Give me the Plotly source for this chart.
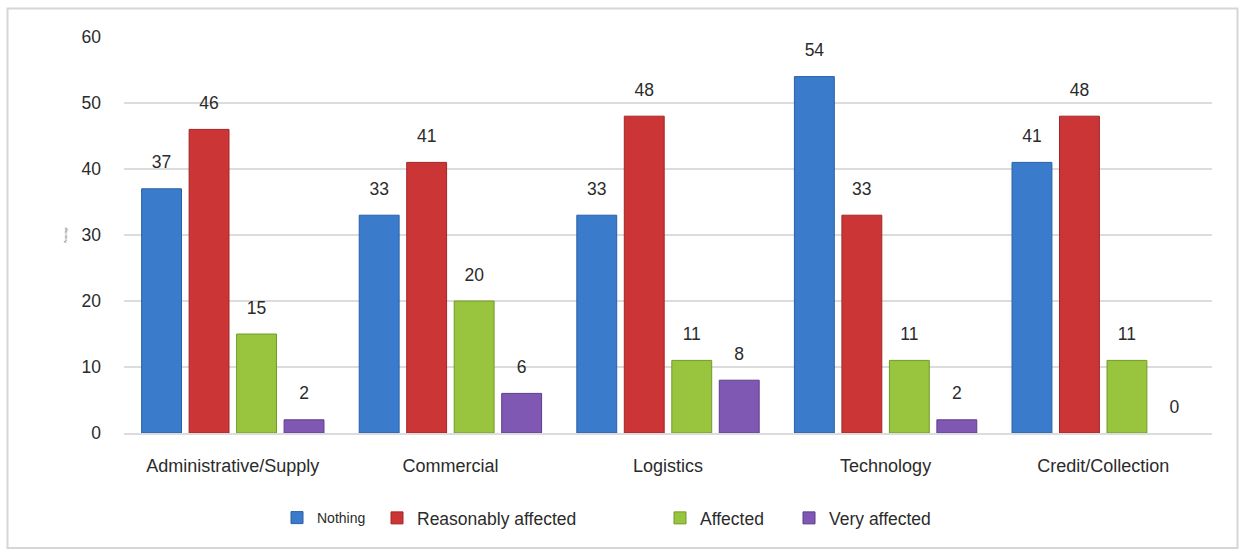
import plotly.graph_objects as go

# Survey results: share of respondents (%) per department and impact level
departments = ["Administrative/Supply", "Commercial", "Logistics", "Technology", "Credit/Collection"]
series_names = ["Nothing", "Reasonably affected", "Affected", "Very affected"]
nothing = [37, 33, 33, 54, 41]
reasonably_affected = [46, 41, 48, 33, 48]
affected = [15, 20, 11, 11, 11]
very_affected = [2, 6, 8, 2, 0]
y_ticks = [0, 10, 20, 30, 40, 50, 60]

series_values = [nothing, reasonably_affected, affected, very_affected]
fill_colors = ["#3B7BCB", "#CC3535", "#98C43E", "#7E58B2"]
edge_colors = ["#2A5FA6", "#A22626", "#729A2A", "#5E3E8C"]

FONT = "Liberation Sans, Arial, Helvetica, sans-serif"
TEXT_COLOR = "#2b2b2b"
GRID_COLOR = "#dcdcdc"

# One legend per series so every entry can sit at its own spot
legend_ids = ["legend", "legend2", "legend3", "legend4"]
legend_x = [277, 377, 660, 789]
legend_font = [14, 17.5, 17.5, 17.5]

fig = go.Figure()

for name, vals, fc, ec, lid in zip(series_names, series_values, fill_colors, edge_colors, legend_ids):
    fig.add_trace(go.Bar(
        name=name,
        x=departments,
        y=vals,
        marker=dict(
            color=fc,
            # no outline on empty bars so nothing shows for a zero value
            line=dict(color=ec, width=[1 if v > 0 else 0 for v in vals]),
        ),
        legend=lid,
        hoverinfo="x+y+name",
    ))

# Value labels above each bar, grouped the same way as the bars
for name, vals in zip(series_names, series_values):
    fig.add_trace(go.Scatter(
        x=departments,
        y=vals,
        mode="markers+text",
        text=[str(v) for v in vals],
        textposition="top center",
        textfont=dict(family=FONT, size=17.5, color=TEXT_COLOR),
        marker=dict(size=24, color="rgba(0,0,0,0)"),
        showlegend=False,
        hoverinfo="skip",
        cliponaxis=False,
    ))

# Light frame around the whole chart
W, H = 1244, 550
L, R, T, B = 124, 32, 37, 117
pw, ph = W - L - R, H - T - B


def px_to_paper_x(px):
    return (px - L) / pw


def px_to_paper_y(py):
    return (H - B - py) / ph


fig.add_shape(
    type="rect", xref="paper", yref="paper",
    x0=px_to_paper_x(7.5), x1=px_to_paper_x(1237.5),
    y0=px_to_paper_y(548), y1=px_to_paper_y(8.5),
    line=dict(color="#d6d6d6", width=2), fillcolor="rgba(0,0,0,0)", layer="below",
)

layout_legends = {}
for lid, lx, fs in zip(legend_ids, legend_x, legend_font):
    layout_legends[lid] = dict(
        xref="container", yref="container",
        x=lx / W, y=1 - 518 / H,
        xanchor="left", yanchor="middle",
        orientation="h",
        font=dict(family=FONT, size=fs, color=TEXT_COLOR),
        bgcolor="rgba(0,0,0,0)",
        borderwidth=0,
        itemwidth=30,
    )

fig.update_layout(
    width=W, height=H,
    margin=dict(l=L, r=R, t=T, b=B),
    paper_bgcolor="white",
    plot_bgcolor="white",
    barmode="group",
    scattermode="group",
    bargap=0.127,
    bargroupgap=0.16,
    scattergap=0.127,
    font=dict(family=FONT, size=17.5, color=TEXT_COLOR),
    showlegend=True,
    **layout_legends,
    xaxis=dict(
        showgrid=False,
        showline=True, linecolor=GRID_COLOR, linewidth=2,
        ticks="",
        tickfont=dict(family=FONT, size=18, color=TEXT_COLOR),
        ticklabelstandoff=15,
    ),
    yaxis=dict(
        range=[0, 60],
        tickvals=y_ticks,
        showgrid=True, gridcolor=GRID_COLOR, gridwidth=2,
        zeroline=False,
        showline=False,
        ticks="",
        tickfont=dict(family=FONT, size=17.5, color=TEXT_COLOR),
        ticklabelstandoff=22,
        title=dict(text="Percentage", font=dict(family=FONT, size=3, color="#666"), standoff=14),
    ),
)

fig.write_html("out.html")
